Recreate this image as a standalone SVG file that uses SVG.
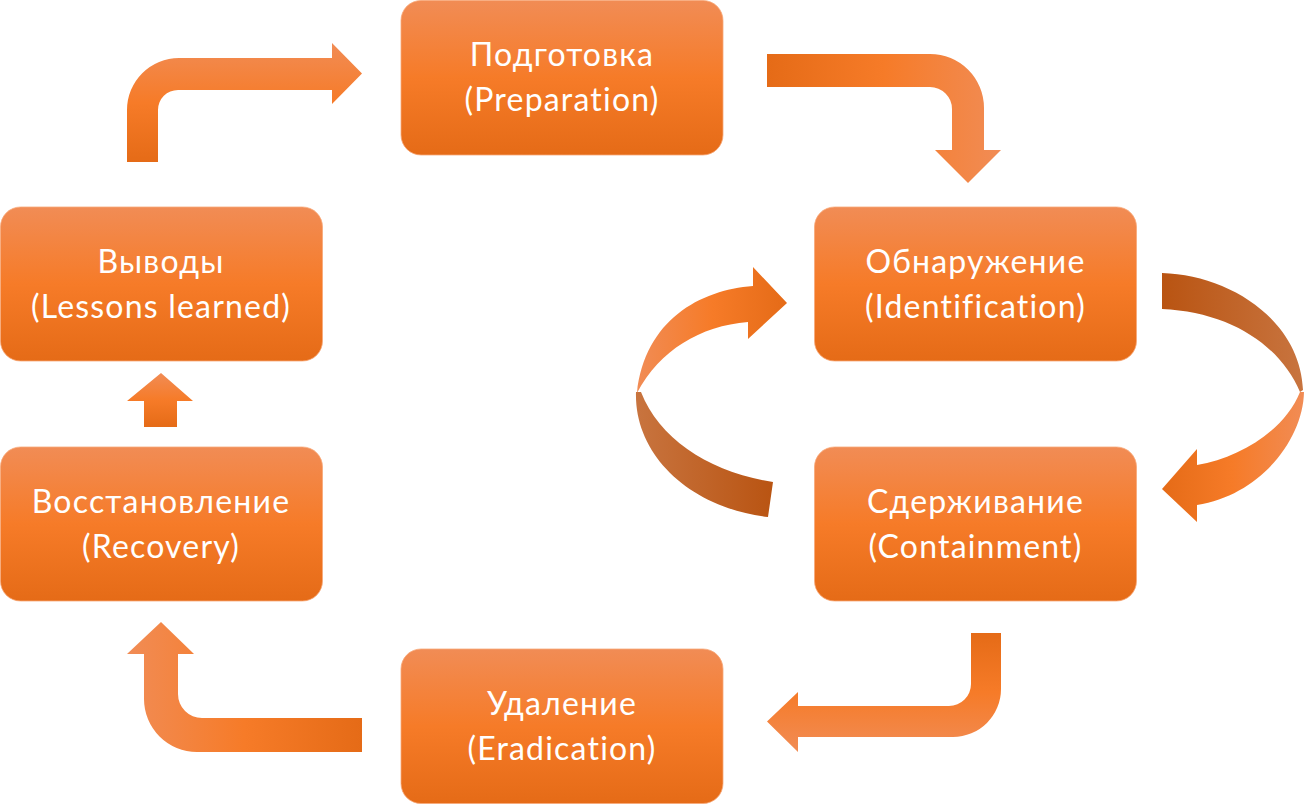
<svg xmlns="http://www.w3.org/2000/svg" width="1304" height="804" viewBox="0 0 1304 804">
<defs>
<linearGradient id="gV" x1="0" y1="0" x2="0" y2="1"><stop offset="0" stop-color="#F18C55"/><stop offset="0.5" stop-color="#F67B28"/><stop offset="1" stop-color="#E56B17"/></linearGradient>
<linearGradient id="gVr" x1="0" y1="1" x2="0" y2="0"><stop offset="0" stop-color="#F18C55"/><stop offset="0.5" stop-color="#F67B28"/><stop offset="1" stop-color="#E56B17"/></linearGradient>
<linearGradient id="gH" x1="0" y1="0" x2="1" y2="0"><stop offset="0" stop-color="#F18C55"/><stop offset="0.5" stop-color="#F67B28"/><stop offset="1" stop-color="#E56B17"/></linearGradient>
<linearGradient id="gHr" x1="1" y1="0" x2="0" y2="0"><stop offset="0" stop-color="#F18C55"/><stop offset="0.5" stop-color="#F67B28"/><stop offset="1" stop-color="#E56B17"/></linearGradient>
<linearGradient id="gBack" x1="0" y1="0" x2="1" y2="0"><stop offset="0" stop-color="#C8743F"/><stop offset="1" stop-color="#B95412"/></linearGradient>
<linearGradient id="gBackR" x1="1" y1="0" x2="0" y2="0"><stop offset="0" stop-color="#C8743F"/><stop offset="1" stop-color="#B95412"/></linearGradient>
</defs>
<style>
.box{fill:url(#gV);stroke:#F7A878;stroke-width:0.8}
.t{font-family:Lato,"Open Sans",sans-serif;font-size:32px;letter-spacing:1.2px;fill:#FFFFFF;text-anchor:middle}
</style>
<g id="connectors">
<path fill="url(#gV)" d="M127 162 L127 110 A52 52 0 0 1 179 58 L332 58 L332 43 L362 73.5 L332 104 L332 90 L178 90 A20 20 0 0 0 158 110 L158 162 Z"/>
<path fill="url(#gHr)" d="M767 54 L930 54 A54 54 0 0 1 984 108 L984 150 L1001 150 L968 183 L935 150 L952 150 L952 109 A22 22 0 0 0 930 87 L767 87 Z"/>
<path fill="url(#gVr)" d="M971 633 L1001 633 L1001 689 A48 48 0 0 1 953 737 L798 737 L798 752 L767 721.5 L798 692 L798 706 L949 706 A22 22 0 0 0 971 684 Z"/>
<path fill="url(#gH)" d="M362 718 L362 752 L197 752 A53 53 0 0 1 144 699 L144 654 L127 654 L161 622 L194 654 L178 654 L178 694 A24 24 0 0 0 202 718 Z"/>
<path fill="url(#gV)" d="M161 373 L193 401 L177 401 L177 427 L144 427 L144 401 L127 401 Z"/>
<path fill="url(#gBack)" d="M636 392 C634 455 690 508 768 517 L773 482 C710 472 660 440 641 392 Z"/>
<path fill="url(#gH)" d="M787 303 L753 267 L753 286 C700 290 645 320 637 393 C660 350 700 326 748 322 L748 339 Z"/>
<path fill="url(#gBackR)" d="M1162 273 C1230 275 1300 320 1303 390 L1300 392 C1280 345 1230 312 1162 309 Z"/>
<path fill="url(#gHr)" d="M1304 392 C1303 440 1260 495 1197 505 L1197 522 L1162 489 L1197 449 L1197 465 C1240 458 1285 430 1300 392 Z"/>
</g>
<g id="n1"><rect class="box" x="401" y="0.5" width="322" height="154.5" rx="20"/><text class="t" x="562" y="66">Подготовка</text><text class="t" x="562" y="111">(Preparation)</text></g>
<g id="n2"><rect class="box" x="814.5" y="207" width="322" height="154" rx="20"/><text class="t" x="975.5" y="273">Обнаружение</text><text class="t" x="975.5" y="318">(Identification)</text></g>
<g id="n3"><rect class="box" x="814.5" y="447" width="322" height="154" rx="20"/><text class="t" x="975.5" y="513">Сдерживание</text><text class="t" x="975.5" y="558">(Containment)</text></g>
<g id="n4"><rect class="box" x="401" y="649" width="322" height="154.5" rx="20"/><text class="t" x="562" y="715">Удаление</text><text class="t" x="562" y="760">(Eradication)</text></g>
<g id="n5"><rect class="box" x="0.5" y="447" width="322" height="154" rx="20"/><text class="t" x="161" y="513">Восстановление</text><text class="t" x="161" y="558">(Recovery)</text></g>
<g id="n6"><rect class="box" x="0.5" y="207" width="322" height="154" rx="20"/><text class="t" x="161" y="273">Выводы</text><text class="t" x="161" y="318">(Lessons learned)</text></g>
</svg>
